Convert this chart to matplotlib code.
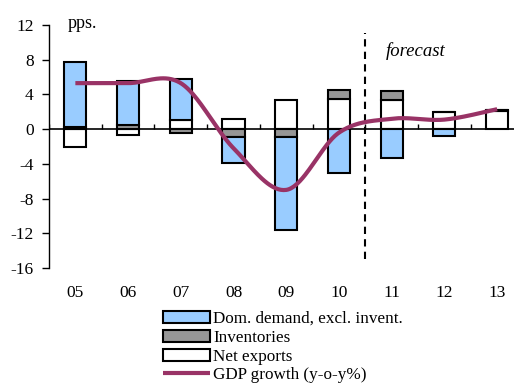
import numpy as np
import matplotlib
import matplotlib.pyplot as plt

matplotlib.use('Agg')

plt.rcParams['font.family'] = ['Liberation Serif', 'DejaVu Serif']
plt.rcParams['axes.unicode_minus'] = False

years = ['05', '06', '07', '08', '09', '10', '11', '12', '13']
dom_demand = [7.4, 5.1, 4.7, -3.05, -10.7, -5.0, -3.3, -0.8, 0.0]
inventories = [0.3, 0.5, -0.4, -0.9, -0.9, 1.0, 1.0, 0.0, 0.2]
net_exports = [-2.0, -0.7, 1.1, 1.2, 3.4, 3.5, 3.4, 2.0, 2.05]
gdp = [5.3, 5.3, 5.3, -2.2, -7.0, -0.4, 1.2, 1.1, 2.3]
y_ticks = [12, 8, 4, 0, -4, -8, -12, -16]


def smooth(xs, ys, n=40):
    # excel-like smoothed line (bezier through the points)
    pts = np.column_stack([xs, ys]).astype(float)
    out = []
    for i in range(len(pts) - 1):
        p0 = pts[max(i - 1, 0)]
        p1 = pts[i]
        p2 = pts[i + 1]
        p3 = pts[min(i + 2, len(pts) - 1)]
        c1 = p1 + (p2 - p0) / 6
        c2 = p2 - (p3 - p1) / 6
        t = np.linspace(0, 1, n)[:, None]
        seg = (1 - t) ** 3 * p1 + 3 * (1 - t) ** 2 * t * c1 + 3 * (1 - t) * t ** 2 * c2 + t ** 3 * p2
        out.append(seg)
    out = np.vstack(out)
    return out[:, 0], out[:, 1]


fig = plt.figure(figsize=(5.14, 3.85), dpi=100)
ax = fig.add_axes([49 / 514, 1 - 268 / 385, (523.5 - 49) / 514, (268 - 25) / 385])

x = np.arange(len(years))
width = 0.42
pos = np.zeros(len(years))
neg = np.zeros(len(years))
series = [(net_exports, 'white', 'Net exports'),
          (inventories, '#969696', 'Inventories'),
          (dom_demand, '#99CCFF', 'Dom. demand, excl. invent.')]
handles = {}
for vals, color, label in series:
    vals = np.array(vals)
    base = np.where(vals >= 0, pos, neg)
    b = ax.bar(x, vals, width, bottom=base, color=color, edgecolor='black',
               linewidth=1.5, label=label, zorder=2)
    handles[label] = b
    pos = pos + np.where(vals >= 0, vals, 0)
    neg = neg + np.where(vals < 0, vals, 0)

sx, sy = smooth(x, gdp)
line, = ax.plot(sx, sy, color='#993366', linewidth=3, label='GDP growth (y-o-y%)',
                zorder=4, solid_capstyle='butt')

# zero line with category ticks
ax.axhline(0, color='black', linewidth=1.2, zorder=1)
ax.vlines(np.arange(len(years) + 1) - 0.5, 0, 0.6, color='black', linewidth=1, zorder=1)

ax.axvline(5.5, ymin=(-15.0 + 16) / 28, ymax=(11.1 + 16) / 28, color='black',
           linewidth=1.5, linestyle=(0, (3.5, 2.5)), zorder=3)
ax.text(5.88, 9.0, 'forecast', style='italic', fontsize=13.5, va='center', ha='left')
ax.text(-0.15, 12.2, 'pps.', fontsize=13, va='center', ha='left')

ax.set_xlim(-0.5, len(years) - 0.5)
ax.set_ylim(-16, 12)
ax.set_yticks(y_ticks)
ax.set_yticklabels([str(v) for v in y_ticks], fontsize=12.5)
ax.set_xticks(x)
ax.set_xticklabels(years, fontsize=12.5)
ax.tick_params(axis='x', length=0, pad=12.5)
ax.tick_params(axis='y', length=5, width=1, direction='out', pad=6)
for s in ['top', 'right', 'bottom']:
    ax.spines[s].set_visible(False)
ax.spines['left'].set_linewidth(1)
ax.patch.set_visible(False)

fig.legend([handles['Dom. demand, excl. invent.'], handles['Inventories'],
            handles['Net exports'], line],
           ['Dom. demand, excl. invent.', 'Inventories', 'Net exports', 'GDP growth (y-o-y%)'],
           loc='upper left', bbox_to_anchor=(163 / 514, 1 - 311 / 385), frameon=False,
           fontsize=12.3, handlelength=2.75, handleheight=0.72, handletextpad=0.18,
           labelspacing=0.16, borderpad=0, borderaxespad=0)

fig.savefig('out.png', dpi=100)
